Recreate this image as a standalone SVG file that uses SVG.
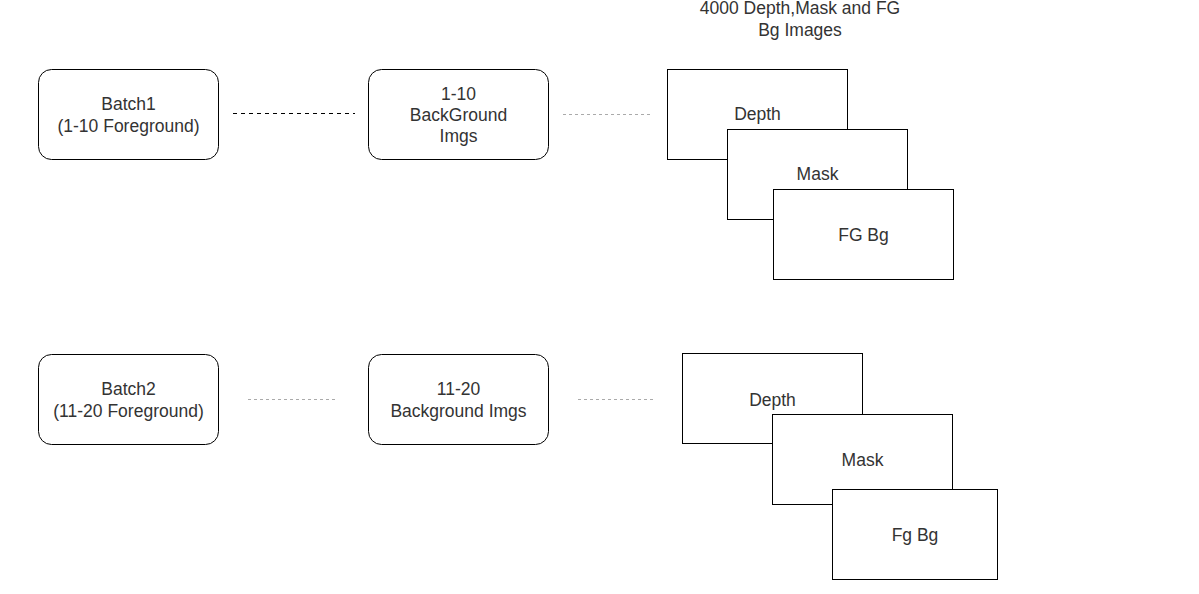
<svg xmlns="http://www.w3.org/2000/svg" width="1199" height="594" viewBox="0 0 1199 594">
<style>
.n{fill:#fff;stroke:#000;stroke-width:1}
.t{font-family:"Liberation Sans",Arial,sans-serif;font-size:17.5px;fill:#333;text-anchor:middle}
.d1{stroke:#000;stroke-width:1;stroke-dasharray:4 4;fill:none}
.d2{stroke:#aaa;stroke-width:1;stroke-dasharray:3 3;fill:none}
</style>
<rect width="1199" height="594" fill="#fff"/>
<g id="connectors">
<line class="d1" x1="233" y1="113.5" x2="355" y2="113.5"/>
<line class="d2" x1="563" y1="114.5" x2="650" y2="114.5"/>
<line class="d2" x1="248" y1="399.5" x2="335" y2="399.5"/>
<line class="d2" x1="578" y1="399.5" x2="653" y2="399.5"/>
</g>
<g id="batch1"><rect class="n" x="38.5" y="69.5" width="180" height="90" rx="13"/><text class="t" x="128.5" y="110">Batch1</text><text class="t" x="128.5" y="132">(1-10 Foreground)</text></g>
<g id="bg1"><rect class="n" x="368.5" y="69.5" width="180" height="90" rx="13"/><text class="t" x="458.5" y="100">1-10</text><text class="t" x="458.5" y="121">BackGround</text><text class="t" x="458.5" y="142">Imgs</text></g>
<g id="title"><text class="t" x="800" y="14">4000 Depth,Mask and FG</text><text class="t" x="800" y="36">Bg Images</text></g>
<g id="depth1"><rect class="n" x="667.5" y="69.5" width="180" height="90"/><text class="t" x="757.5" y="120">Depth</text></g>
<g id="mask1"><rect class="n" x="727.5" y="129.5" width="180" height="90"/><text class="t" x="817.5" y="180">Mask</text></g>
<g id="fgbg1"><rect class="n" x="773.5" y="189.5" width="180" height="90"/><text class="t" x="863.5" y="241">FG Bg</text></g>
<g id="batch2"><rect class="n" x="38.5" y="354.5" width="180" height="90" rx="13"/><text class="t" x="128.5" y="395">Batch2</text><text class="t" x="128.5" y="417">(11-20 Foreground)</text></g>
<g id="bg2"><rect class="n" x="368.5" y="354.5" width="180" height="90" rx="13"/><text class="t" x="458.5" y="395">11-20</text><text class="t" x="458.5" y="417">Background Imgs</text></g>
<g id="depth2"><rect class="n" x="682.5" y="353.5" width="180" height="90"/><text class="t" x="772.5" y="406">Depth</text></g>
<g id="mask2"><rect class="n" x="772.5" y="414.5" width="180" height="90"/><text class="t" x="862.5" y="466">Mask</text></g>
<g id="fgbg2"><rect class="n" x="832.5" y="489.5" width="165" height="90"/><text class="t" x="915" y="541">Fg Bg</text></g>
</svg>
